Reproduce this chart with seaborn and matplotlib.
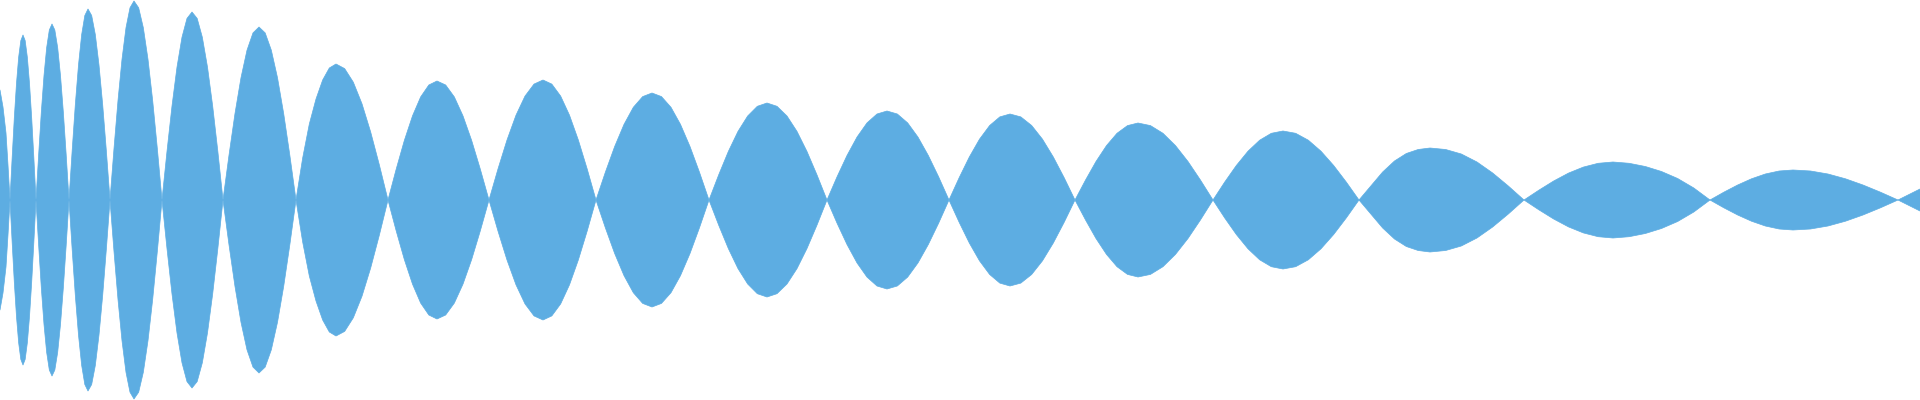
import matplotlib
matplotlib.use("Agg")
import matplotlib.pyplot as plt
import seaborn as sns
import pandas as pd

# Sample positions along the signal (x) and the envelope amplitude
sample_x = [
    0, 3, 6, 8, 10,
    12.17, 14.33, 16.5, 18.67, 20.83, 23, 25.17, 27.33, 29.5, 31.67, 33.83, 36,
    38.67, 41.33, 44, 46.67, 49.33, 52, 54.83, 57.67, 60.5, 63.33, 66.17, 69,
    72.17, 75.33, 78.5, 81.67, 84.83, 88, 91.67, 95.33, 99, 102.67, 106.33, 110,
    114, 118, 122, 126, 130, 134, 138.67, 143.33, 148, 152.67, 157.33, 162,
    167, 172, 177, 182, 187, 192, 197.17, 202.33, 207.5, 212.67, 217.83, 223,
    229, 235, 241, 247, 253, 259, 265.17, 271.33, 277.5, 283.67, 289.83, 296,
    302.67, 309.33, 316, 322.67, 329.33, 336, 344.67, 353.33, 362, 370.67, 379.33, 388,
    396.17, 404.33, 412.5, 420.67, 428.83, 437, 445.67, 454.33, 463, 471.67, 480.33, 489,
    498, 507, 516, 525, 534, 543, 551.83, 560.67, 569.5, 578.33, 587.17, 596,
    605.33, 614.67, 624, 633.33, 642.67, 652, 661.5, 671, 680.5, 690, 699.5, 709,
    718.67, 728.33, 738, 747.67, 757.33, 767, 777, 787, 797, 807, 817, 827,
    837, 847, 857, 867, 877, 887, 897.33, 907.67, 918, 928.33, 938.67, 949,
    959.17, 969.33, 979.5, 989.67, 999.83, 1010, 1020.83, 1031.67, 1042.5, 1053.33, 1064.17, 1075,
    1085.5, 1096, 1106.5, 1117, 1127.5, 1138, 1150.5, 1163, 1175.5, 1188, 1200.5, 1213,
    1224.67, 1236.33, 1248, 1259.67, 1271.33, 1283, 1295.67, 1308.33, 1321, 1333.67, 1346.33, 1359,
    1370.83, 1382.67, 1394.5, 1406.33, 1418.17, 1430, 1445.67, 1461.33, 1477, 1492.67, 1508.33, 1524,
    1538.83, 1553.67, 1568.5, 1583.33, 1598.17, 1613, 1629.17, 1645.33, 1661.5, 1677.67, 1693.83, 1710,
    1723.83, 1737.67, 1751.5, 1765.33, 1779.17, 1793, 1810.5, 1828, 1845.5, 1863, 1880.5, 1898,
    1920,
]

envelope = [
    110, 93, 67, 35, 0,
    42.7, 82.5, 116.7, 142.9, 159.4, 165, 159.4, 142.9, 116.7, 82.5, 42.7, 0,
    45.6, 88, 124.4, 152.4, 170, 176, 170, 152.4, 124.4, 88, 45.6, 0,
    49.5, 95.5, 135, 165.4, 184.5, 191, 184.5, 165.4, 135, 95.5, 49.5, 0,
    51.5, 99.5, 140.7, 172.3, 192.2, 199, 192.2, 172.3, 140.7, 99.5, 51.5, 0,
    48.7, 94, 132.9, 162.8, 181.6, 188, 181.6, 162.8, 132.9, 94, 48.7, 0,
    44.8, 86.5, 122.3, 149.8, 167.1, 173, 167.1, 149.8, 122.3, 86.5, 44.8, 0,
    42, 76, 101, 120, 132, 136, 131.4, 117.8, 96.2, 68, 35.2, 0,
    30.8, 59.5, 84.1, 103.1, 115, 119, 115, 103.1, 84.1, 59.5, 30.8, 0,
    31.1, 60, 84.8, 103.9, 115.9, 120, 115.9, 103.9, 84.8, 60, 31.1, 0,
    27.7, 53.5, 75.6, 92.7, 103.4, 107, 103.4, 92.7, 75.6, 53.5, 27.7, 0,
    25.1, 48.5, 68.6, 84, 93.7, 97, 93.7, 84, 68.6, 48.5, 25.1, 0,
    23.1, 44.5, 62.9, 77.1, 86, 89, 86, 77.1, 62.9, 44.5, 23.1, 0,
    22.3, 43, 60.8, 74.5, 83.1, 86, 83.1, 74.5, 60.8, 43, 22.3, 0,
    19.9, 38.5, 54.4, 66.7, 74.4, 77, 74.4, 66.7, 54.4, 38.5, 19.9, 0,
    17.9, 34.5, 48.8, 59.8, 66.7, 69, 66.7, 59.8, 48.8, 34.5, 17.9, 0,
    14, 28, 39, 46.5, 50.5, 52, 50.5, 46, 38, 27, 14, 0,
    9.8, 19, 26.9, 32.9, 36.7, 38, 36.7, 33.5, 28.5, 21.5, 12, 0,
    7.8, 15, 21.2, 26, 29, 30, 29, 26, 21.2, 15, 7.8, 0,
    11,
]

fill_color = "#5DADE2"

sns.set_theme(style="white")

df = pd.DataFrame({"x": sample_x, "upper": envelope})
df["lower"] = -df["upper"]

fig = plt.figure(figsize=(19.2, 4.0), dpi=100)
ax = fig.add_axes([0, 0, 1, 1])

sns.lineplot(data=df, x="x", y="upper", ax=ax, color=fill_color, linewidth=0.5, sort=False)
sns.lineplot(data=df, x="x", y="lower", ax=ax, color=fill_color, linewidth=0.5, sort=False)
ax.fill_between(df["x"], df["lower"], df["upper"], color=fill_color, linewidth=0)

ax.set_xlim(0, 1920)
ax.set_ylim(-200, 200)
ax.axis("off")

fig.savefig("out.png", dpi=100, facecolor="white")
